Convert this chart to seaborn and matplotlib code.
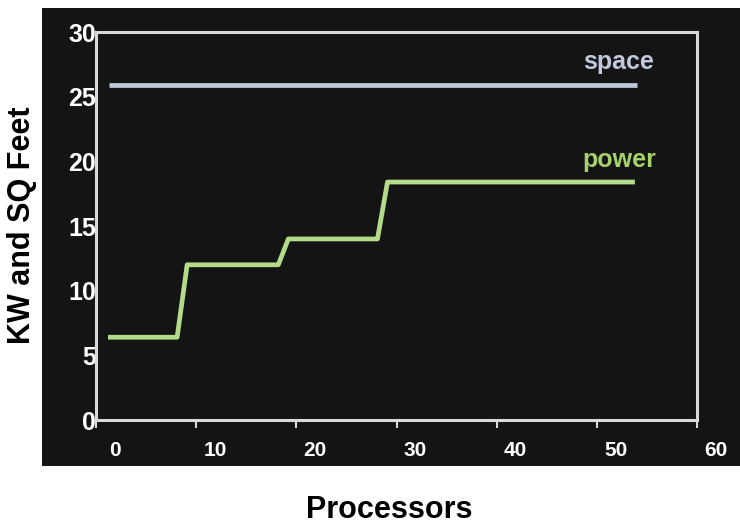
import matplotlib
matplotlib.use("Agg")
import matplotlib.pyplot as plt
import matplotlib.patches as mpatches
from matplotlib.transforms import ScaledTranslation
import seaborn as sns
import pandas as pd

# ---- data ----
power_x = [1.2, 8.1, 9.1, 18.2, 19.2, 28.1, 29.1, 53.8]
power_y = [6.4, 6.4, 12.0, 12.0, 14.0, 14.0, 18.4, 18.4]
space_x = [1.3, 54.0]
space_y = [25.9, 25.9]
x_ticks = [0, 10, 20, 30, 40, 50, 60]
y_ticks = [0, 5, 10, 15, 20, 25, 30]
series_labels = ["space", "power"]

BG = "#141414"
SPACE_C = "#c0c8de"
POWER_LINE_C = "#b3db8a"
POWER_TXT_C = "#a6d26c"
AXIS_C = "#d9d9d9"

df = pd.concat([
    pd.DataFrame({"x": space_x, "y": space_y, "series": "space"}),
    pd.DataFrame({"x": power_x, "y": power_y, "series": "power"}),
], ignore_index=True)

sns.set_theme(style="white")
plt.rcParams["font.family"] = ["Liberation Sans", "DejaVu Sans"]

fig = plt.figure(figsize=(7.4, 5.24), dpi=100, facecolor="white")

# dark panel behind the plot
fig.patches.append(mpatches.Rectangle((42 / 740, 1 - 466 / 524), 1 - 42 / 740, (466 - 8) / 524,
                                      transform=fig.transFigure, facecolor=BG,
                                      edgecolor="none", zorder=-10))

ax = fig.add_axes([96 / 740, 1 - 420 / 524, (697 - 96) / 740, (420 - 32) / 524])
ax.set_zorder(5)
ax.set_facecolor(BG)

sns.lineplot(data=df, x="x", y="y", hue="series", estimator=None, sort=False,
             palette={"space": SPACE_C, "power": POWER_LINE_C},
             linewidth=3.4, legend=False, ax=ax, solid_capstyle="butt")

ax.set_xlim(0, 60)
ax.set_ylim(0, 30)
ax.set_xticks(x_ticks)
ax.set_yticks(y_ticks)
ax.set_xticklabels([str(v) for v in x_ticks], fontsize=15, fontweight="bold", color="white")
ax.set_yticklabels([str(v) for v in y_ticks], fontsize=18, fontweight="bold", color="white")
ax.tick_params(axis="x", length=6, width=1.5, color=AXIS_C, pad=9, bottom=True)
ax.tick_params(axis="y", length=0, pad=0, left=True)

# x tick labels sit to the right of their ticks in the reference
off = ScaledTranslation(0.19, 0, fig.dpi_scale_trans)
for lab in ax.get_xticklabels():
    lab.set_transform(lab.get_transform() + off)

for s in ax.spines.values():
    s.set_visible(True)
    s.set_color(AXIS_C)
    s.set_linewidth(2.2)

ax.set_xlabel("")
ax.set_ylabel("")

# series labels
ax.text(52.2, 27.7, series_labels[0], color=SPACE_C, fontsize=18, fontweight="bold",
        ha="center", va="center")
ax.text(52.2, 20.1, series_labels[1], color=POWER_TXT_C, fontsize=18, fontweight="bold",
        ha="center", va="center")

# axis titles on the white margin
fig.text(22 / 740, 1 - 225 / 524, "KW and SQ Feet", rotation=90, fontsize=22,
         fontweight="bold", color="black", ha="center", va="center")
fig.text(389 / 740, 1 - 510 / 524, "Processors", fontsize=22,
         fontweight="bold", color="black", ha="center", va="center")

fig.savefig("out.png", dpi=100, facecolor="white")
